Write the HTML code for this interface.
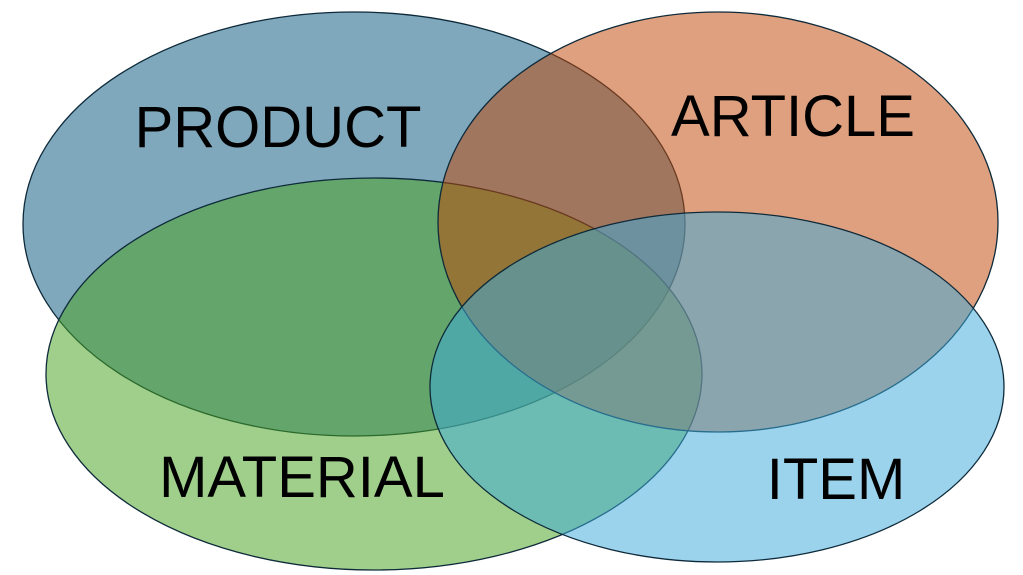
<!DOCTYPE html>
<html><head><style>
html,body{margin:0;padding:0;background:#fff;}
svg{display:block;}
text{font-family:"Liberation Sans",sans-serif;font-size:58px;fill:#000;text-anchor:middle;}
</style></head><body>
<svg width="1023" height="575" viewBox="0 0 1023 575">
<g stroke="#0e2a3a" stroke-width="1.3">
<ellipse cx="354" cy="224" rx="331" ry="212" fill="#0a587f" fill-opacity="0.52"/>
<ellipse cx="374" cy="374" rx="328" ry="196" fill="#49a321" fill-opacity="0.52"/>
<ellipse cx="718" cy="222" rx="280" ry="210" fill="#c0490a" fill-opacity="0.52"/>
<ellipse cx="717" cy="387" rx="287" ry="175" fill="#3fabdb" fill-opacity="0.52"/>
</g>
<text x="278" y="147">PRODUCT</text>
<text x="793" y="136">ARTICLE</text>
<text x="302" y="497">MATERIAL</text>
<text x="836" y="499">ITEM</text>
</svg>
</body></html>
